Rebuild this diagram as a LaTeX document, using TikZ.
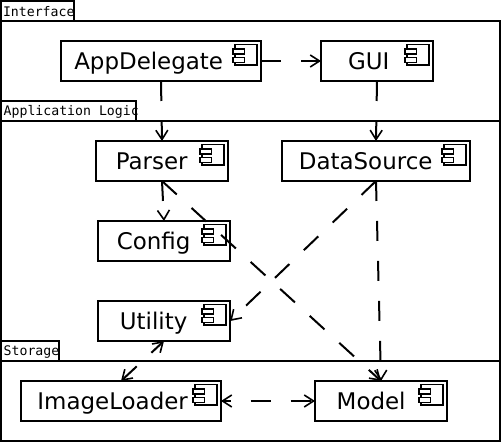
\documentclass[tikz,border=0pt]{standalone}
\usepackage{fontspec}
\setmainfont{DejaVu Sans}
\setmonofont{DejaVu Sans Mono}
\usetikzlibrary{arrows.meta}
\usetikzlibrary{positioning}

\begin{document}
\begin{tikzpicture}[x=0.75pt, y=-0.75pt, line width=1.5pt,
    compnode/.style={rectangle, draw=black, fill=white, minimum height=30pt, inner sep=0pt, outer sep=0pt, text height=14.5pt, text depth=1.75pt, font=\fontsize{17.2}{20}\selectfont},
    tabnode/.style={rectangle, draw=black, fill=white, minimum height=15pt, inner sep=0pt, outer sep=0pt, anchor=south west},
    tabtext/.style={inner sep=0pt, outer sep=0pt, yshift=-0.6pt, font=\ttfamily\fontsize{9.9}{12}\selectfont},
    framebox/.style={draw=black, fill=white},
    dep/.style={-{Straight Barb[length=7pt, width=9pt, line width=1.2pt]}, dash pattern=on 15pt off 15pt},
    bidep/.style={{Straight Barb[length=7pt, width=9pt, line width=1.2pt]}-{Straight Barb[length=7pt, width=9pt, line width=1.2pt]}, dash pattern=on 15pt off 15pt}]
    \useasboundingbox (0,0) rectangle (501,442);

    % Frames
    \draw[framebox] (1,21) rectangle (500,121);
    \draw[framebox] (1,121) rectangle (500,361);
    \draw[framebox] (1,361) rectangle (500,441);

    % Tabs
    \node[tabnode, minimum width=54.75pt] (interfaceTab) at (1,21) {};
    \node[tabtext, anchor=west] (interfaceText) at ([xshift=1.5pt]interfaceTab.west) {Interface};
    \node[tabnode, minimum width=101.25pt] (logicTab) at (1,121) {};
    \node[tabtext, anchor=west] (logicText) at ([xshift=2pt]logicTab.west) {Application Logic};
    \node[tabnode, minimum width=43.5pt] (storageTab) at (1,361) {};
    \node[tabtext, anchor=west] (storageText) at ([xshift=2pt]storageTab.west) {Storage};

    % Components
    \node[compnode, minimum width=150pt] (appDelegate) at (161,61) {\hspace{-18.5pt}AppDelegate};
    \node[compnode, minimum width=84pt] (gui) at (377,61) {\hspace{-12.5pt}GUI};
    \node[compnode, minimum width=99pt] (parser) at (162,161) {\hspace{-15.5pt}Parser};
    \node[compnode, minimum width=141pt] (dataSource) at (376,161) {\hspace{-15.5pt}DataSource};
    \node[compnode, minimum width=99pt] (config) at (164,241) {\hspace{-15.5pt}Config};
    \node[compnode, minimum width=99pt] (utility) at (164,321) {\hspace{-15.5pt}Utility};
    \node[compnode, minimum width=150pt] (imageLoader) at (121,401) {\hspace{-12.5pt}ImageLoader};
    \node[compnode, minimum width=99pt] (model) at (381,401) {\hspace{-14.75pt}Model};

    % Component icons
    \foreach \comp in {appDelegate, gui, parser, dataSource, config, utility, imageLoader, model} {
        \draw[line width=1.25pt, fill=white] ([shift={(-26,3.5)}]\comp.north east) rectangle ([shift={(-3.7,24)}]\comp.north east);
        \draw[line width=1.25pt, fill=white] ([shift={(-28,8)}]\comp.north east) rectangle ([shift={(-16.5,13)}]\comp.north east);
        \draw[line width=1.25pt, fill=white] ([shift={(-28,16.5)}]\comp.north east) rectangle ([shift={(-16.5,21.5)}]\comp.north east);
    }

    % Dependencies
    \draw[dep] (appDelegate.east) -- (gui.west);
    \draw[dep] (appDelegate.south) -- (parser.north);
    \draw[dep] (gui.south) -- (dataSource.north);
    \draw[dep] (parser.south) -- (config.north);
    \draw[dep] (parser.south) -- (model.north);
    \draw[dep] (dataSource.south) -- (utility.east);
    \draw[dep] (dataSource.south) -- (model.north);
    \draw[bidep, dash phase=3.75pt] (utility.south) -- (imageLoader.north);
    \draw[bidep, dash phase=9.5pt] (imageLoader.east) -- (model.west);
\end{tikzpicture}
\end{document}
